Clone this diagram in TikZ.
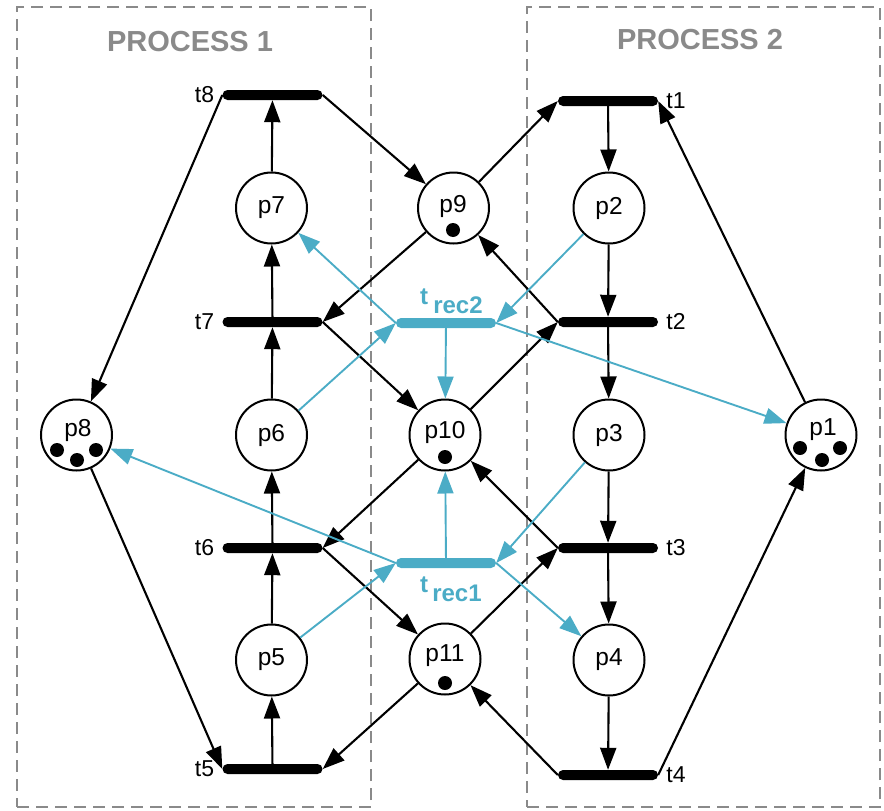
\documentclass[tikz,border=0pt]{standalone}
\usepackage{fontspec}
\setmainfont{Liberation Sans}
\usetikzlibrary{arrows.meta}
\definecolor{rec}{HTML}{4BACC6}
\definecolor{boxgray}{HTML}{8A8A8A}
\begin{document}
\begin{tikzpicture}[x=1pt,y=-1pt,
  plfont/.style={font=\fontsize{24.5}{24.5}\selectfont},
  place/.style={circle,draw,line width=2pt,minimum size=71pt,inner sep=0pt,plfont},
  trans/.style={rectangle,fill=black,minimum width=100pt,minimum height=10pt,inner sep=0pt,rounded corners=5pt},
  rtrans/.style={trans,fill=rec},
  tl/.style={font=\fontsize{23}{23}\selectfont,inner sep=0pt,label distance=8pt},
  arc/.style={line width=2.1pt,-{Triangle[length=22pt,width=16pt]}},
  rarc/.style={arc,draw=rec,line width=1.9pt},
  procbox/.style={draw=boxgray,line width=1.7pt,dash pattern=on 12pt off 7pt,inner sep=0pt},
  ptitle/.style={font=\bfseries\fontsize{29}{29}\selectfont,text=boxgray},
  rlab/.style={font=\bfseries\fontsize{24}{24}\selectfont,text=rec,inner sep=0pt},
  token/.style={circle,fill=black,minimum size=14pt,inner sep=0pt}]
\useasboundingbox (0,0) rectangle (884,811);
% process boxes
\node[procbox,minimum width=354pt,minimum height=800pt] (proc1) at (194,407) {};
\node[procbox,minimum width=353pt,minimum height=800pt] (proc2) at (703.5,407) {};
\node[ptitle] (title1) at (190,42) {PROCESS 1};
\node[ptitle] (title2) at (700,40) {PROCESS 2};
% places
\node[place] (p7) at (271.5,208) {p7};
\node[place] (p6) at (271.5,435) {p6};
\node[place] (p5) at (271.5,660) {p5};
\node[place] (p8) at (76.5,435) {};
\node[plfont] (p8l) at (78,430) {p8};
\node[place] (p9) at (453.5,208) {};
\node[plfont] (p9l) at (453,206) {p9};
\node[place] (p10) at (445,435) {};
\node[plfont] (p10l) at (445,432) {p10};
\node[place] (p11) at (445,659) {};
\node[plfont] (p11l) at (445,656) {p11};
\node[place] (p2) at (609,208) {p2};
\node[place] (p3) at (609,435) {p3};
\node[place] (p4) at (609,660) {p4};
\node[place] (p1) at (821,435) {};
\node[plfont] (p1l) at (823,430) {p1};
% tokens
\node[token] (k8a) at (57,450) {};
\node[token] (k8b) at (77,460) {};
\node[token] (k8c) at (96,450) {};
\node[token] (k1a) at (800,448) {};
\node[token] (k1b) at (822,460) {};
\node[token] (k1c) at (840,448) {};
\node[token] (k9) at (453,230) {};
\node[token] (k10) at (445,457) {};
\node[token] (k11) at (445,683) {};
% transitions
\node[trans,label={[tl]left:t8}] (t8) at (272.5,95) {};
\node[trans,label={[tl]left:t7}] (t7) at (272.5,322) {};
\node[trans,label={[tl]left:t6}] (t6) at (272.5,548) {};
\node[trans,label={[tl]left:t5}] (t5) at (272.5,769) {};
\node[trans,label={[tl]right:t1}] (t1) at (608,101) {};
\node[trans,label={[tl]right:t2}] (t2) at (608,322) {};
\node[trans,label={[tl]right:t3}] (t3) at (608,548) {};
\node[trans,label={[tl]right:t4}] (t4) at (608,775) {};
\node[rtrans] (tr2) at (446,323) {};
\node[rtrans] (tr1) at (446,563) {};
\node[rlab] (tr2a) at (424,297) {t};
\node[rlab] (tr2b) at (458,305) {rec2};
\node[rlab] (tr1a) at (424,585) {t};
\node[rlab] (tr1b) at (457,593) {rec1};
% process 1 arcs
\draw[arc] (t5) -- (p5);
\draw[arc] (p5) -- (t6);
\draw[arc] (t6) -- (p6);
\draw[arc] (p6) -- (t7);
\draw[arc] (t7) -- (p7);
\draw[arc] (p7) -- (t8);
\draw[arc] (t8.west) -- (p8);
\draw[arc] (p8) -- (t5.west);
% process 2 arcs
\draw[arc] (t1) -- (p2);
\draw[arc] (p2) -- (t2);
\draw[arc] (t2) -- (p3);
\draw[arc] (p3) -- (t3);
\draw[arc] (t3) -- (p4);
\draw[arc] (p4) -- (t4);
\draw[arc] (t4.east) -- (p1);
\draw[arc] (p1) -- (t1.east);
% shared places
\draw[arc] (t8.east) -- (p9);
\draw[arc] (p9) -- (t7.east);
\draw[arc] (t7.east) -- (p10);
\draw[arc] (p10) -- (t6.east);
\draw[arc] (t6.east) -- (p11);
\draw[arc] (p11) -- (t5.east);
\draw[arc] (p9) -- (t1.west);
\draw[arc] (t2.west) -- (p9);
\draw[arc] (p10) -- (t2.west);
\draw[arc] (t3.west) -- (p10);
\draw[arc] (p11) -- (t3.west);
\draw[arc] (t4.west) -- (p11);
% recovery arcs
\draw[rarc] (tr2.west) -- (p7);
\draw[rarc] (p6) -- (tr2.west);
\draw[rarc] (p2) -- (tr2.east);
\draw[rarc] (tr2.east) -- (p1);
\draw[rarc] (tr2) -- (p10);
\draw[rarc] (tr1) -- (p10);
\draw[rarc] (p5) -- (tr1.west);
\draw[rarc] (p3) -- (tr1.east);
\draw[rarc] (tr1.west) -- (p8);
\draw[rarc] (tr1.east) -- (p4);
\end{tikzpicture}
\end{document}
